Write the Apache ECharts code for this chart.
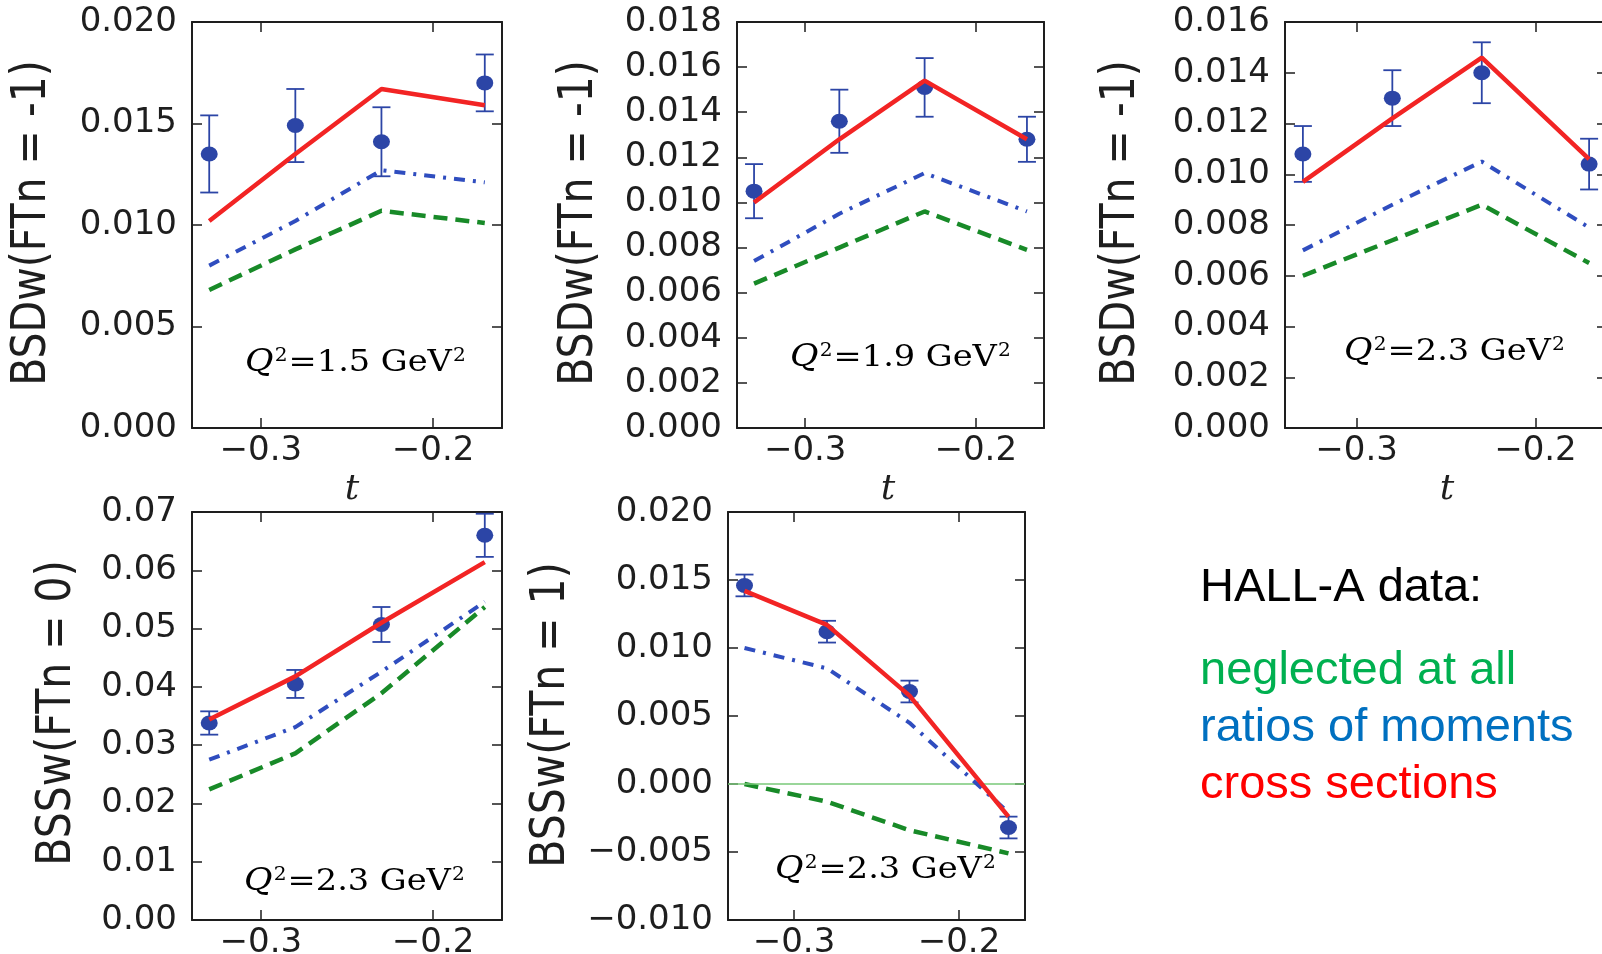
<!DOCTYPE html>
<html>
<head>
<meta charset="utf-8">
<script src="https://cdn.jsdelivr.net/npm/echarts@6/dist/echarts.min.js"></script>
<style>
html,body{margin:0;padding:0;background:#fff;}
#c{width:1602px;height:954px;}
</style>
</head>
<body>
<div id="c"></div>
<script>
// ---------- data ----------
const tValues = [-0.33, -0.28, -0.23, -0.17];
const xTickValues = [-0.3, -0.2];

// Panel 1: BSDw(FTn = -1), Q2 = 1.5
const p1Data    = [0.0135, 0.0149, 0.0141, 0.0170];
const p1Err     = [0.0019, 0.0018, 0.0017, 0.0014];
const p1Cross   = [0.0102, 0.0135, 0.0167, 0.0159];
const p1Ratio   = [0.0080, 0.0102, 0.0127, 0.0121];
const p1Neglect = [0.0068, 0.0088, 0.0107, 0.0101];

// Panel 2: BSDw(FTn = -1), Q2 = 1.9
const p2Data    = [0.0105, 0.0136, 0.0151, 0.0128];
const p2Err     = [0.0012, 0.0014, 0.0013, 0.0010];
const p2Cross   = [0.0100, 0.0128, 0.0154, 0.0128];
const p2Ratio   = [0.0074, 0.0095, 0.0113, 0.0096];
const p2Neglect = [0.0064, 0.0080, 0.0096, 0.0079];

// Panel 3: BSDw(FTn = -1), Q2 = 2.3
const p3Data    = [0.0108, 0.0130, 0.0140, 0.0104];
const p3Err     = [0.0011, 0.0011, 0.0012, 0.0010];
const p3Cross   = [0.0097, 0.0122, 0.0146, 0.0106];
const p3Ratio   = [0.0070, 0.0088, 0.0105, 0.0079];
const p3Neglect = [0.0060, 0.0074, 0.0088, 0.0065];

// Panel 4: BSSw(FTn = 0), Q2 = 2.3
const p4Data    = [0.0338, 0.0405, 0.0507, 0.0660];
const p4Err     = [0.0020, 0.0024, 0.0030, 0.0037];
const p4Cross   = [0.0344, 0.0418, 0.0510, 0.0614];
const p4Ratio   = [0.0275, 0.0331, 0.0426, 0.0546];
const p4Neglect = [0.0224, 0.0286, 0.0389, 0.0537];

// Panel 5: BSSw(FTn = 1), Q2 = 2.3
const p5Data    = [0.0146, 0.0112, 0.0068, -0.0032];
const p5Err     = [0.0008, 0.0008, 0.0008, 0.0008];
const p5Cross   = [0.0142, 0.0117, 0.0065, -0.0024];
const p5Ratio   = [0.0100, 0.0085, 0.0045, -0.0021];
const p5Neglect = [0.0000, -0.0013, -0.0034, -0.0051];

const yTitles = ['BSDw(FTn = -1)', 'BSDw(FTn = -1)', 'BSDw(FTn = -1)', 'BSSw(FTn = 0)', 'BSSw(FTn = 1)'];
const q2Values = ['1.5', '1.9', '2.3', '2.3', '2.3'];
const yRanges = [[0, 0.020, 0.005, 3], [0, 0.018, 0.002, 3], [0, 0.016, 0.002, 3], [0, 0.07, 0.01, 2], [-0.010, 0.020, 0.005, 3]];
const legendLines = ['HALL-A data:', 'neglected at all', 'ratios of moments', 'cross sections'];

// ---------- layout / style ----------
const panels = [
  {data: p1Data, err: p1Err, cross: p1Cross, ratio: p1Ratio, neg: p1Neglect,
   grid: {left: 192, top: 22, width: 310, height: 406}, title: [33, 223], q2: [356, 363], t: [352, 490]},
  {data: p2Data, err: p2Err, cross: p2Cross, ratio: p2Ratio, neg: p2Neglect,
   grid: {left: 737, top: 22, width: 307, height: 406}, title: [580, 223], q2: [901, 358], t: [888, 490]},
  {data: p3Data, err: p3Err, cross: p3Cross, ratio: p3Ratio, neg: p3Neglect,
   grid: {left: 1285, top: 22, width: 322, height: 406}, title: [1122, 223], q2: [1455, 352], t: [1447, 490]},
  {data: p4Data, err: p4Err, cross: p4Cross, ratio: p4Ratio, neg: p4Neglect,
   grid: {left: 192, top: 512, width: 310, height: 408}, title: [58, 713], q2: [355, 882], t: null},
  {data: p5Data, err: p5Err, cross: p5Cross, ratio: p5Ratio, neg: p5Neglect,
   grid: {left: 728, top: 512, width: 297, height: 408}, title: [552, 715], q2: [886, 870], t: null, zeroLine: true}
];

const FONT = 'DejaVu Sans';
const AX = '#1e1e1e';
const RED = '#f22424';
const BLUE_PT = '#2c45a6';
const BLUE_LN = '#2f4dbf';
const GREEN = '#188a28';

function fmt(dec) {
  return function (v) {
    if (Math.abs(v) < 1e-12) v = 0;
    return v.toFixed(dec).replace('-', '\u2212');
  };
}
function pairs(xs, ys) { return xs.map((x, i) => [x, ys[i]]); }

function errRender(params, api) {
  const x = api.value(0), lo = api.value(1), hi = api.value(2);
  const a = api.coord([x, lo]), b = api.coord([x, hi]);
  const w = 9;
  const style = {stroke: BLUE_PT, lineWidth: 1.8};
  return {type: 'group', children: [
    {type: 'line', shape: {x1: a[0], y1: a[1], x2: b[0], y2: b[1]}, style: style},
    {type: 'line', shape: {x1: a[0] - w, y1: a[1], x2: a[0] + w, y2: a[1]}, style: style},
    {type: 'line', shape: {x1: b[0] - w, y1: b[1], x2: b[0] + w, y2: b[1]}, style: style}
  ]};
}

const grids = [], xAxes = [], yAxes = [], series = [], graphics = [];
const axisLineStyle = {show: true, onZero: false, lineStyle: {color: AX, width: 2}};
const tickStyle = {color: AX, width: 1.5};

panels.forEach((p, i) => {
  grids.push(Object.assign({containLabel: false, outerBoundsMode: 'none'}, p.grid));
  const [ymin, ymax, yint, dec] = yRanges[i];
  xAxes.push({type: 'value', gridIndex: i, min: -0.34, max: -0.16, position: 'bottom',
    axisLine: axisLineStyle,
    axisTick: {show: true, inside: true, length: 10, lineStyle: tickStyle, customValues: xTickValues},
    axisLabel: {show: true, margin: 6, fontSize: 34, fontFamily: FONT, color: AX, customValues: xTickValues, formatter: fmt(1)},
    splitLine: {show: false}});
  xAxes.push({type: 'value', gridIndex: i, min: -0.34, max: -0.16, position: 'top',
    axisLine: axisLineStyle,
    axisTick: {show: true, inside: true, length: 10, lineStyle: tickStyle, customValues: xTickValues},
    axisLabel: {show: false, customValues: xTickValues},
    splitLine: {show: false}});
  yAxes.push({type: 'value', gridIndex: i, min: ymin, max: ymax, interval: yint, position: 'left',
    axisLine: axisLineStyle,
    axisTick: {show: true, inside: true, length: 10, lineStyle: tickStyle},
    axisLabel: {show: true, margin: 15, fontSize: 34, fontFamily: FONT, color: AX, formatter: fmt(dec)},
    splitLine: {show: false}});
  yAxes.push({type: 'value', gridIndex: i, min: ymin, max: ymax, interval: yint, position: 'right',
    axisLine: axisLineStyle,
    axisTick: {show: true, inside: true, length: 10, lineStyle: tickStyle},
    axisLabel: {show: false},
    splitLine: {show: false}});

  const xi = 2 * i, yi = 2 * i;
  series.push({type: 'custom', xAxisIndex: xi, yAxisIndex: yi, z: 2,
    renderItem: errRender, encode: {x: 0, y: [1, 2]},
    data: tValues.map((t, k) => [t, p.data[k] - p.err[k], p.data[k] + p.err[k]])});
  series.push({type: 'scatter', xAxisIndex: xi, yAxisIndex: yi, z: 3,
    symbol: 'circle', symbolSize: [17, 15], itemStyle: {color: BLUE_PT, opacity: 1},
    data: pairs(tValues, p.data)});
  const neg = {type: 'line', xAxisIndex: xi, yAxisIndex: yi, z: 4, showSymbol: false, symbol: 'none',
    lineStyle: {color: GREEN, width: 4.5, type: [14, 8]}, data: pairs(tValues, p.neg)};
  if (p.zeroLine) {
    neg.markLine = {silent: true, symbol: 'none', label: {show: false},
      lineStyle: {color: '#79c879', width: 1.5, type: 'solid'}, data: [{yAxis: 0}]};
  }
  series.push(neg);
  series.push({type: 'line', xAxisIndex: xi, yAxisIndex: yi, z: 5, showSymbol: false, symbol: 'none',
    lineStyle: {color: BLUE_LN, width: 4, type: [11, 8, 3, 8]}, data: pairs(tValues, p.ratio)});
  series.push({type: 'line', xAxisIndex: xi, yAxisIndex: yi, z: 6, showSymbol: false, symbol: 'none',
    lineStyle: {color: RED, width: 4.5}, data: pairs(tValues, p.cross)});

  graphics.push({type: 'text', x: p.title[0], y: p.title[1], rotation: Math.PI / 2, scaleY: 1.15,
    style: {text: yTitles[i], font: '41px "DejaVu Sans"', fill: AX, textAlign: 'center', textVerticalAlign: 'middle'}});
  graphics.push({type: 'text', x: p.q2[0], y: p.q2[1], scaleX: 1.12,
    style: {text: '{q|Q}{s|2}{n|=' + q2Values[i] + ' GeV}{s|2}', textAlign: 'center', textVerticalAlign: 'middle',
      rich: {
        q: {fontFamily: 'DejaVu Serif', fontStyle: 'italic', fontSize: 31, color: '#444', verticalAlign: 'bottom'},
        n: {fontFamily: 'DejaVu Serif', fontSize: 30, color: '#444', verticalAlign: 'bottom'},
        s: {fontFamily: 'DejaVu Serif', fontSize: 18, color: '#444', verticalAlign: 'top', padding: [0, 1, 0, 1]}
      }}});
  if (p.t) {
    graphics.push({type: 'text', x: p.t[0], y: p.t[1],
      style: {text: 't', font: 'italic 36px "DejaVu Serif"', fill: AX, textAlign: 'center', textVerticalAlign: 'middle'}});
  }
});

const legendColors = ['#000000', '#00b050', '#0070c0', '#ff0000'];
const legendY = [588, 671, 728, 785];
legendLines.forEach((s, k) => {
  graphics.push({type: 'text', x: 1200, y: legendY[k],
    style: {text: s, font: '47px "Liberation Sans"', fill: legendColors[k], textAlign: 'left', textVerticalAlign: 'middle'}});
});

const chart = echarts.init(document.getElementById('c'), null, {renderer: 'canvas'});
chart.setOption({
  animation: false,
  backgroundColor: '#fff',
  textStyle: {fontFamily: FONT},
  grid: grids,
  xAxis: xAxes,
  yAxis: yAxes,
  series: series,
  graphic: graphics
});
</script>
</body>
</html>
